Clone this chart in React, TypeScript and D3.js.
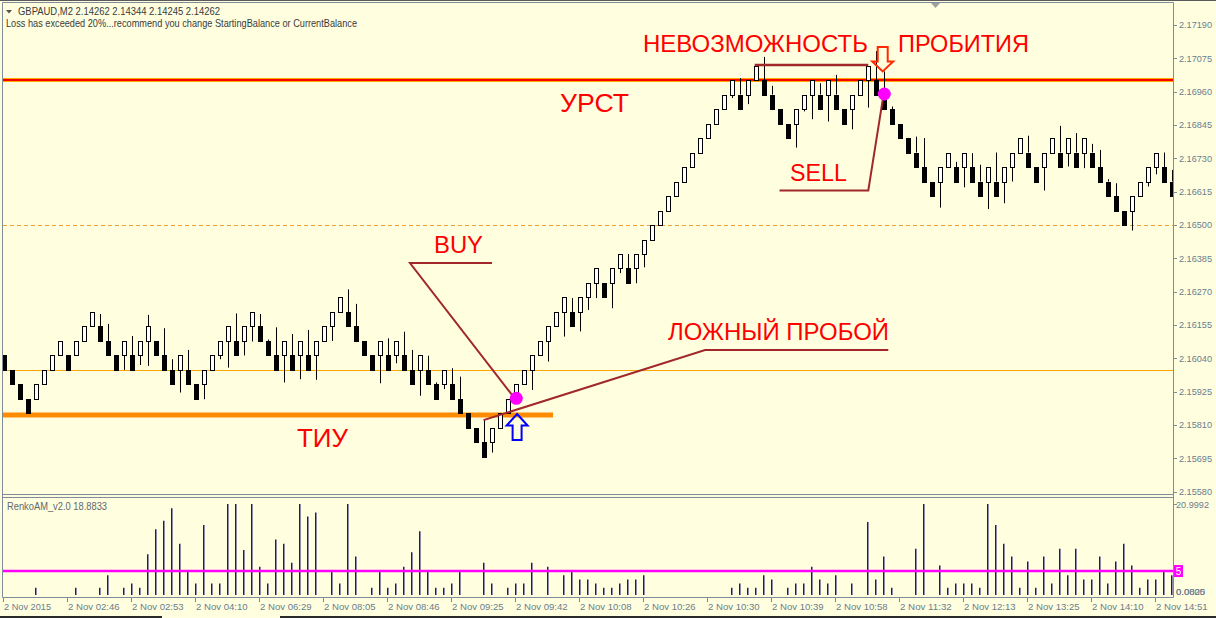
import React from "react";
import * as d3 from "d3";

const W = 1216;
const H = 618;
const BRICK = 0.0005;

// lower edge of every renko body, left to right
const brickLow = [
  2.16, 2.1595, 2.159, 2.1585, 2.159, 2.1595, 2.16, 2.1605, 2.16, 2.1605,
  2.161, 2.1615, 2.161, 2.1605, 2.16, 2.1605, 2.16, 2.1605, 2.161, 2.1605,
  2.16, 2.1595, 2.16, 2.1595, 2.159, 2.1595, 2.16, 2.1605, 2.161, 2.1605,
  2.161, 2.1615, 2.161, 2.1605, 2.16, 2.1605, 2.16, 2.1605, 2.16, 2.1605,
  2.161, 2.1615, 2.162, 2.1615, 2.161, 2.1605, 2.16, 2.1605, 2.16, 2.1605,
  2.16, 2.1595, 2.16, 2.1595, 2.159, 2.1595, 2.159, 2.1585, 2.158, 2.1575,
  2.157, 2.1575, 2.158, 2.1585, 2.159, 2.1595, 2.16, 2.1605, 2.161, 2.1615,
  2.162, 2.1615, 2.162, 2.1625, 2.163, 2.1625, 2.163, 2.1635, 2.163, 2.1635,
  2.164, 2.1645, 2.165, 2.1655, 2.166, 2.1665, 2.167, 2.1675, 2.168, 2.1685,
  2.169, 2.1695, 2.169, 2.1695, 2.17, 2.1695, 2.169, 2.1685, 2.168, 2.1685,
  2.169, 2.1695, 2.169, 2.1695, 2.169, 2.1685, 2.169, 2.1695, 2.17, 2.1695,
  2.169, 2.1685, 2.168, 2.1675, 2.167, 2.1665, 2.166, 2.1665, 2.167, 2.1665,
  2.167, 2.1665, 2.166, 2.1665, 2.166, 2.1665, 2.167, 2.1675, 2.167, 2.1665,
  2.167, 2.1675, 2.167, 2.1675, 2.167, 2.1675, 2.167, 2.1665, 2.166, 2.1655,
  2.165, 2.1655, 2.166, 2.1665, 2.167, 2.1665, 2.166,
];

// u = white (up) brick, d = black (down) brick
const brickDir = (
  "dddd uuuu d uuu ddd u d uu ddd u dd uuuu d uu ddd u d u d uuuu dddd u d u dd u dd u ddddd " +
  "uuuuuuuuuu d uuu d uu d uuuuuuuuuuuuu d uu dddd uuu d u dd uuu dddddddd uu d u dd u d uuu " +
  "dd uu d u d u ddddd uuuu dd"
)
  .replace(/ /g, "")
  .split("");

// [brick number, price of the wick tip]
const upperWicks = [
  [13, 2.16193], [14, 2.16159], [17, 2.16117], [19, 2.1619], [21, 2.16144], [22, 2.16037],
  [24, 2.16069], [30, 2.16195], [33, 2.16193], [34, 2.16105], [35, 2.16147], [37, 2.16124],
  [39, 2.16138], [44, 2.16278], [45, 2.16228], [49, 2.16109], [51, 2.16132], [52, 2.16069],
  [54, 2.16049], [55, 2.15957], [57, 2.16006], [58, 2.15977], [61, 2.15828], [72, 2.16248],
  [79, 2.164], [93, 2.17007], [96, 2.1708], [97, 2.1698], [103, 2.16989], [105, 2.17018],
  [110, 2.171], [111, 2.1703], [112, 2.16909], [115, 2.16805], [116, 2.168], [120, 2.16718],
  [122, 2.16748], [123, 2.16708], [125, 2.1675], [129, 2.16808], [133, 2.16842], [135, 2.16817],
  [137, 2.1678], [138, 2.16759], [139, 2.16658], [140, 2.16644], [146, 2.1675], [147, 2.1669],
];
const lowerWicks = [
  [16, 2.16], [18, 2.16017], [19, 2.16014], [23, 2.15922], [26, 2.15899], [28, 2.16037],
  [29, 2.16008], [31, 2.1605], [32, 2.16098], [36, 2.15957], [38, 2.15968], [40, 2.15966],
  [42, 2.161], [48, 2.15954], [50, 2.16023], [53, 2.15911], [56, 2.15934], [62, 2.15715],
  [67, 2.15931], [69, 2.16029], [71, 2.16115], [73, 2.16133], [74, 2.16207], [75, 2.16248],
  [77, 2.16213], [78, 2.16334], [80, 2.16299], [81, 2.16354], [92, 2.16938], [94, 2.16917],
  [100, 2.16767], [101, 2.16892], [102, 2.16865], [104, 2.16857], [107, 2.1683], [109, 2.16905],
  [118, 2.1656], [121, 2.1663], [124, 2.16555], [126, 2.16575], [127, 2.1665], [131, 2.16619],
  [134, 2.16702], [136, 2.16696], [142, 2.16481], [144, 2.16633], [145, 2.16675],
];

// RenkoAM_v2.0 histogram, one value per brick
const renkoAM = [
  0, 0, 0, 0, 1, 0, 0, 0, 0, 1,
  0, 0, 1, 4, 0, 1, 2, 1, 9, 15,
  17, 20, 11.5, 5, 2, 16, 2, 2, 21, 21,
  10, 21, 6, 2, 12.5, 11.5, 7, 21, 18, 19,
  0, 5, 2, 21, 8.5, 0, 1, 5, 1, 2,
  6, 9.5, 14.5, 5, 1, 1, 2, 5, 0, 0,
  7, 2, 0, 1, 2, 2, 7, 0, 6, 0,
  4, 5, 3, 3, 2, 1, 1, 2, 3, 3,
  4, 0, 0, 0, 0, 0, 0, 0, 0, 0,
  0, 1, 2, 1, 1, 4, 3, 0, 1, 2,
  2, 6, 3, 2, 4, 0, 2, 0, 16.7, 3,
  8.5, 1, 0, 0, 10.3, 21, 0, 6.3, 1, 2,
  2, 2, 1, 21, 16, 11.5, 8.5, 1, 7.3, 1,
  8.5, 2, 10.3, 4, 10.3, 3, 3, 8.5, 2, 7.3,
  11.5, 6.3, 1, 3, 3, 5, 4,
];
const renkoLevel = 5;

const priceTicks = [
  2.1558, 2.15695, 2.1581, 2.15925, 2.1604, 2.16155, 2.1627, 2.16385,
  2.165, 2.16615, 2.1673, 2.16845, 2.1696, 2.17075, 2.1719,
];
const timeLabels = [
  "2 Nov 2015", "2 Nov 02:46", "2 Nov 02:53", "2 Nov 04:10", "2 Nov 06:29",
  "2 Nov 08:05", "2 Nov 08:46", "2 Nov 09:25", "2 Nov 09:42", "2 Nov 10:08",
  "2 Nov 10:26", "2 Nov 10:30", "2 Nov 10:39", "2 Nov 10:58", "2 Nov 11:32",
  "2 Nov 12:13", "2 Nov 13:25", "2 Nov 14:10", "2 Nov 14:51",
];

// drawn levels
const resistance = 2.17;
const support = 2.15845;
const supportEnd = 69.6;
const pivot = 2.16;
const dashedLevel = 2.165;

// hand drawn annotations, [brick, price]
const buyLeader = [[61.96, 2.16369], [51.71, 2.16369], [64.46, 2.15914]];
const falseBreakLeader = [[60.9, 2.15827], [88.6, 2.16069], [111.5, 2.16069]];
const rangeTop = [[94.8, 2.17052], [109.0, 2.17052]];
const sellLeader = [[97.9, 2.16619], [109.0, 2.16619], [110.9, 2.16949]];
const signalDots = [[65, 2.15902], [111, 2.16952]];
const buyArrowTip = [65.1, 2.15848];
const sellArrowTip = [110.8, 2.1703];

const BG = "#FFFFE0";
const AXIS = "#6B7C8D";
const FRAME = "#7F8C99";
const FONT = "'Liberation Sans', Arial, sans-serif";

const App = () => {
  const left = 3;
  const right = 1173;
  const mainTop = 3;
  const mainBottom = 494;
  const subTop = 497;
  const subBottom = 597;

  const x = d3.scaleLinear().domain([1, 147]).range([4.3, 1172.3]);
  const y = d3.scaleLinear().domain([2.1558, 2.1719]).range([491.7, 25]);
  const ySub = d3.scaleLinear().domain([0, 21]).range([592, 504]);

  const path = d3
    .line<number[]>()
    .x((d) => x(d[0]))
    .y((d) => y(d[1]));

  const arrow = (tip: number[], pts: number[][]) => {
    const tx = x(tip[0]);
    const ty = y(tip[1]);
    return pts.map((p) => `${tx + p[0]},${ty + p[1]}`).join(" ");
  };

  const upShape = [[0, 0], [10.5, 11.5], [4.5, 11.5], [4.5, 26], [-4.5, 26], [-4.5, 11.5], [-10.5, 11.5]];
  const downShape = [[0, 0], [10.5, -10], [5, -10], [5, -24.5], [-5, -24.5], [-5, -10], [-10.5, -10]];

  const red = { fill: "#FF0000", fontFamily: FONT };

  return (
    <div style={{ position: "absolute", left: 0, top: 0, width: W, height: H }}>
      <svg width={W} height={H} style={{ display: "block" }}>
        <defs>
          <clipPath id="mainClip">
            <rect x={left} y={mainTop} width={right - left} height={mainBottom - mainTop} />
          </clipPath>
        </defs>
        <rect x={0} y={0} width={W} height={H} fill={BG} />
        <rect x={0} y={0} width={W} height={1} fill="#5A5A5A" />

        {/* level lines */}
        <g clipPath="url(#mainClip)">
          <line
            x1={left} x2={right} y1={Math.round(y(dashedLevel)) + 0.5} y2={Math.round(y(dashedLevel)) + 0.5}
            stroke="#F0A030" strokeWidth={1} strokeDasharray="4,3"
          />
          <line
            x1={left} x2={right} y1={Math.round(y(pivot)) + 0.5} y2={Math.round(y(pivot)) + 0.5}
            stroke="#FFA500" strokeWidth={1}
          />
          <line x1={left} x2={right} y1={y(resistance)} y2={y(resistance)} stroke="#FFA500" strokeWidth={4} />
          <line x1={left} x2={right} y1={y(resistance)} y2={y(resistance)} stroke="#FF0000" strokeWidth={2} />
          <line x1={left} x2={x(supportEnd)} y1={y(support)} y2={y(support)} stroke="#FF8C00" strokeWidth={5} />

          {/* wicks */}
          {upperWicks.map(([i, p]) => {
            const cx = Math.round(x(i)) + 0.5;
            return (
              <line key={"uw" + i} x1={cx} x2={cx} y1={y(p)} y2={y(brickLow[i - 1] + BRICK)} stroke="#000" strokeWidth={1} />
            );
          })}
          {lowerWicks.map(([i, p]) => {
            const cx = Math.round(x(i)) + 0.5;
            return (
              <line key={"lw" + i} x1={cx} x2={cx} y1={y(brickLow[i - 1])} y2={y(p)} stroke="#000" strokeWidth={1} />
            );
          })}

          {/* bricks */}
          {brickLow.map((lo, k) => {
            const cx = Math.round(x(k + 1));
            const top = Math.round(y(lo + BRICK));
            const bot = Math.round(y(lo));
            const up = brickDir[k] === "u";
            return (
              <rect
                key={"b" + k}
                x={cx - 2 + 0.5}
                y={top + 0.5}
                width={4}
                height={bot - top}
                fill={up ? "#FFFFFF" : "#000000"}
                stroke="#000"
                strokeWidth={1}
              />
            );
          })}
        </g>

        {/* annotations */}
        <g fill="none" stroke="#A0282A" strokeWidth={2}>
          <path d={path(buyLeader) || ""} />
          <path d={path(falseBreakLeader) || ""} />
          <path d={path(rangeTop) || ""} strokeWidth={2.5} />
          <path d={path(sellLeader) || ""} />
        </g>
        {signalDots.map((d, k) => (
          <circle key={"s" + k} cx={x(d[0])} cy={y(d[1])} r={6.5} fill="#FF00FF" />
        ))}
        <polygon points={arrow(buyArrowTip, upShape)} fill="none" stroke="#0000FF" strokeWidth={2} />
        <polygon points={arrow(sellArrowTip, downShape)} fill="none" stroke="#FF2A00" strokeWidth={2} />

        <text x={643} y={52} fontSize={24} textLength={225} lengthAdjust="spacingAndGlyphs" style={red}>НЕВОЗМОЖНОСТЬ</text>
        <text x={898} y={52} fontSize={24} textLength={131} lengthAdjust="spacingAndGlyphs" style={red}>ПРОБИТИЯ</text>
        <text x={560} y={112} fontSize={26} textLength={69} lengthAdjust="spacingAndGlyphs" style={red}>УРСТ</text>
        <text x={790} y={181} fontSize={23} textLength={57} lengthAdjust="spacingAndGlyphs" style={red}>SELL</text>
        <text x={434} y={253} fontSize={24} textLength={49} lengthAdjust="spacingAndGlyphs" style={red}>BUY</text>
        <text x={668} y={340} fontSize={24} textLength={221} lengthAdjust="spacingAndGlyphs" style={red}>ЛОЖНЫЙ ПРОБОЙ</text>
        <text x={297} y={447} fontSize={26} textLength={51} lengthAdjust="spacingAndGlyphs" style={red}>ТИУ</text>

        {/* header */}
        <polygon points="6,10 12,10 9,13.5" fill="#555" />
        <text x={18} y={15} fontSize={10.5} fill="#3A3A3A" fontFamily={FONT} textLength={202} lengthAdjust="spacingAndGlyphs">
          GBPAUD,M2  2.14262 2.14344 2.14245 2.14262
        </text>
        <text x={6} y={27} fontSize={10.5} fill="#3A3A3A" fontFamily={FONT} textLength={351} lengthAdjust="spacingAndGlyphs">
          Loss has exceeded 20%...recommend you change StartingBalance or CurrentBalance
        </text>
        <polygon points="930,2 941,2 935.5,8" fill="#A0A0A0" />

        {/* renko histogram */}
        {renkoAM.map((v, k) =>
          v > 0 ? (
            <line
              key={"h" + k}
              x1={Math.round(x(k + 1)) - 0.25}
              x2={Math.round(x(k + 1)) - 0.25}
              y1={subBottom - 2}
              y2={ySub(v)}
              stroke="#1C1C6E"
              strokeWidth={1.5}
            />
          ) : null
        )}
        <line x1={left} x2={right} y1={ySub(renkoLevel)} y2={ySub(renkoLevel)} stroke="#FF00FF" strokeWidth={2.5} />
        <rect x={1174} y={ySub(renkoLevel) - 6} width={9} height={12} fill="#FF00FF" />
        <text x={1178.5} y={ySub(renkoLevel)} dy="0.36em" fontSize={10} fill="#FFF" textAnchor="middle" fontFamily={FONT}>5</text>
        <text x={7} y={510} fontSize={10} fill="#606870" fontFamily={FONT} textLength={100} lengthAdjust="spacingAndGlyphs">
          RenkoAM_v2.0 18.8833
        </text>

        {/* frames */}
        <g fill="none" stroke={FRAME} strokeWidth={1}>
          <line x1={2.5} x2={right + 0.5} y1={2.5} y2={2.5} />
          <line x1={2.5} x2={2.5} y1={2.5} y2={subBottom + 0.5} />
          <line x1={right + 0.5} x2={right + 0.5} y1={2.5} y2={subBottom + 0.5} />
          <line x1={2.5} x2={right + 0.5} y1={mainBottom + 0.5} y2={mainBottom + 0.5} />
          <line x1={2.5} x2={right + 0.5} y1={subTop + 0.5} y2={subTop + 0.5} />
          <line x1={2.5} x2={right + 0.5} y1={subBottom + 0.5} y2={subBottom + 0.5} />
        </g>

        {/* price axis */}
        {priceTicks.map((p) => (
          <g key={"p" + p}>
            <line x1={right + 1} x2={right + 4} y1={Math.round(y(p)) + 0.5} y2={Math.round(y(p)) + 0.5} stroke={FRAME} />
            <text x={1179} y={y(p)} dy="0.35em" fontSize={9.5} fill={AXIS} fontFamily={FONT} textLength={33} lengthAdjust="spacingAndGlyphs">
              {p.toFixed(5)}
            </text>
          </g>
        ))}
        <line x1={right + 1} x2={right + 4} y1={504.5} y2={504.5} stroke={FRAME} />
        <text x={1176} y={505} dy="0.35em" fontSize={9.5} fill={AXIS} fontFamily={FONT} textLength={33} lengthAdjust="spacingAndGlyphs">20.9992</text>
        <text x={1176} y={592} dy="0.35em" fontSize={9.5} fill={AXIS} fontFamily={FONT} textLength={29} lengthAdjust="spacingAndGlyphs">0.0000</text>
        <text x={1176} y={592} dy="0.35em" fontSize={9.5} fill={AXIS} fontFamily={FONT} textLength={29} lengthAdjust="spacingAndGlyphs">0.0825</text>

        {/* time axis */}
        {timeLabels.map((t, k) => {
          const tx = Math.round(x(1 + 8 * k) - 1.3);
          return (
            <g key={t}>
              <line x1={tx + 0.5} x2={tx + 0.5} y1={subBottom + 1} y2={subBottom + 5} stroke={FRAME} />
              <text x={tx + 1} y={610} fontSize={9.5} fill={AXIS} fontFamily={FONT} textLength={t.length * 4.7} lengthAdjust="spacingAndGlyphs">
                {t}
              </text>
            </g>
          );
        })}
        <rect x={0} y={616} width={162} height={2} fill="#2A2A2A" />
        <rect x={280} y={616} width={W - 280} height={2} fill="#2A2A2A" />
      </svg>
    </div>
  );
};

export default App;
